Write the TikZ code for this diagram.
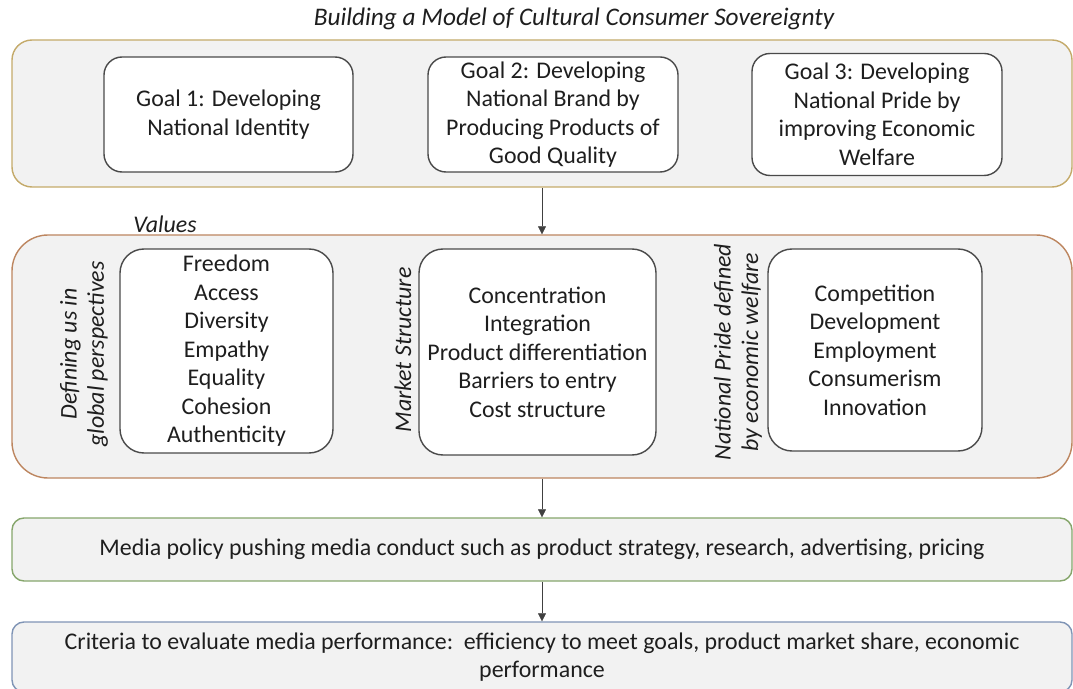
\documentclass[tikz,border=0pt]{standalone}
\usepackage{fontspec}
\setmainfont{Carlito}
\usetikzlibrary{arrows.meta}

\definecolor{panelfill}{HTML}{F2F2F2}
\definecolor{goldline}{HTML}{C4AA6A}
\definecolor{copperline}{HTML}{BD8660}
\definecolor{greenline}{HTML}{86A66C}
\definecolor{blueline}{HTML}{7F94B5}
\definecolor{boxline}{HTML}{4A4A4A}
\definecolor{inktext}{HTML}{1E1E1E}

\begin{document}
\begin{tikzpicture}[
	panel/.style = {draw, fill = panelfill, line width = 1pt, inner sep = 0pt},
	whitebox/.style = {draw = boxline, fill = white, line width = 1pt, inner sep = 0pt, align = center, text = inktext, font = \fontsize{17}{20.3}\selectfont},
	sidelabel/.style = {rotate = 90, align = center, text = inktext, font = \fontsize{17}{19.5}\selectfont\itshape},
	flow/.style = {draw = black!75, thin, -{Triangle[width=2mm, length=2mm]}}
]
	\useasboundingbox (0, 0) rectangle (26.825, 17.2);
	
	\node[text = inktext, font = \fontsize{18}{20}\selectfont\itshape] (title) at (14.35, 16.72) {Building a Model of Cultural Consumer Sovereignty};
	
	% goals
	\node[panel, draw = goldline, rounded corners = 0.5 cm, minimum width = 26.5 cm, minimum height = 3.675 cm] (goals) at (13.55, 14.3625) {};
	\node[whitebox, rounded corners = 0.45 cm, minimum width = 6.225 cm, minimum height = 2.875 cm] (goal1) at (5.7125, 14.3375) {Goal 1: Developing\\National Identity};
	\node[whitebox, rounded corners = 0.45 cm, minimum width = 6.25 cm, minimum height = 2.875 cm] (goal2) at (13.825, 14.3375) {Goal 2: Developing\\National Brand by\\Producing Products of\\Good Quality};
	\node[whitebox, rounded corners = 0.45 cm, minimum width = 6.25 cm, minimum height = 3.05 cm] (goal3) at (21.925, 14.3375) {Goal 3: Developing\\National Pride by\\improving Economic\\Welfare};
	
	% values
	\node[text = inktext, font = \fontsize{17}{20}\selectfont\itshape] (values) at (4.125, 11.6) {Values};
	\node[panel, draw = copperline, rounded corners = 0.9 cm, minimum width = 26.5 cm, minimum height = 6.075 cm] (valuesbox) at (13.55, 8.2875) {};
	
	\node[sidelabel] (labelA) at (2.1, 8.35) {Defining us in\\global perspectives};
	\node[whitebox, rounded corners = 0.6 cm, minimum width = 5.325 cm, minimum height = 5.1 cm] (boxA) at (5.6625, 8.425) {Freedom\\Access\\Diversity\\Empathy\\Equality\\Cohesion\\Authenticity};
	
	\node[sidelabel] (labelB) at (10.075, 8.45) {Market Structure};
	\node[whitebox, rounded corners = 0.6 cm, minimum width = 5.925 cm, minimum height = 5.15 cm] (boxB) at (13.4375, 8.4) {Concentration\\Integration\\Product differentiation\\Barriers to entry\\Cost structure};
	
	\node[sidelabel] (labelC) at (18.45, 8.4) {National Pride defined\\by economic welfare};
	\node[whitebox, rounded corners = 0.6 cm, minimum width = 5.35 cm, minimum height = 5.05 cm] (boxC) at (21.875, 8.45) {Competition\\Development\\Employment\\Consumerism\\Innovation};
	
	% conduct and performance
	\node[panel, draw = greenline, rounded corners = 0.3 cm, minimum width = 26.5 cm, minimum height = 1.575 cm, text = inktext, font = \fontsize{17}{20}\selectfont] (media) at (13.55, 3.4625) {Media policy pushing media conduct such as product strategy, research, advertising, pricing};
	\node[panel, draw = blueline, rounded corners = 0.3 cm, minimum width = 26.5 cm, minimum height = 1.75 cm, align = center, text = inktext, font = \fontsize{17}{20.3}\selectfont] (criteria) at (13.55, 0.775) {Criteria to evaluate media performance:\ \ efficiency to meet goals, product market share, economic\\performance};
	
	\draw[flow] (goals.south) -- (valuesbox.north);
	\draw[flow] (valuesbox.south) -- (media.north);
	\draw[flow] (media.south) -- (criteria.north);
\end{tikzpicture}
\end{document}
